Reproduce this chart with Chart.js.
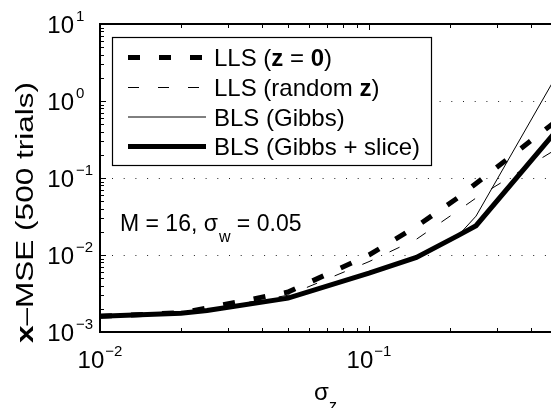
<!DOCTYPE html>
<html>
<head>
<meta charset="utf-8">
<script src="https://cdn.jsdelivr.net/npm/chart.js@4.4.1/dist/chart.umd.min.js"></script>
<style>
  html, body { margin: 0; padding: 0; background: #fff; overflow: hidden; }
  #wrap { width: 551px; height: 408px; position: relative; }
</style>
</head>
<body>
<div id="wrap"><canvas id="chart" width="551" height="408"></canvas></div>
<script>
// sigma_z values and x-MSE per method
const sigmaZ    = [0.01,   0.02,    0.025,   0.05,    0.1,     0.15,    0.215,  0.25,   0.5];
const llsZero   = [1.6e-3, 1.78e-3, 2.05e-3, 3.3e-3,  1.0e-2,  2.35e-2, 5.6e-2, 8.5e-2, 0.56];
const llsRandom = [1.6e-3, 1.78e-3, 1.95e-3, 3.0e-3,  8.2e-3,  1.6e-2,  3.8e-2, 5.5e-2, 0.24];
const blsGibbs  = [1.6e-3, 1.75e-3, 1.9e-3,  2.75e-3, 5.8e-3,  9.3e-3,  1.8e-2, 3.2e-2, 2.2];
const blsSlice  = [1.6e-3, 1.75e-3, 1.9e-3,  2.75e-3, 5.8e-3,  9.3e-3,  1.8e-2, 2.4e-2, 0.42];

const yTickExps = [-3, -2, -1, 0, 1];
const xTickExps = [-2, -1];
const gridExps = [-2, -1, 0];

const FONT = '"Liberation Sans", Arial, Helvetica, sans-serif';

function pts(ys) {
    return sigmaZ.map((x, i) => ({ x: x, y: ys[i] }));
}

const datasets = [
    { label: 'LLS (z = 0)', data: pts(llsZero), borderWidth: 5, borderDash: [12, 19], order: 4,
      parts: [['LLS (', false], ['z', true], [' = ', false], ['0', true], [')', false]] },
    { label: 'LLS (random z)', data: pts(llsRandom), borderWidth: 1, borderDash: [11, 19], order: 3,
      parts: [['LLS (random ', false], ['z', true], [')', false]] },
    { label: 'BLS (Gibbs)', data: pts(blsGibbs), borderWidth: 1, borderDash: [], order: 2,
      parts: [['BLS (Gibbs)', false]] },
    { label: 'BLS (Gibbs + slice)', data: pts(blsSlice), borderWidth: 5, borderDash: [], order: 1,
      parts: [['BLS (Gibbs + slice)', false]] }
];
datasets.forEach(d => {
    d.borderColor = '#000';
    d.backgroundColor = '#000';
    d.pointRadius = 0;
    d.tension = 0;
    d.fill = false;
    d.borderJoinStyle = 'miter';
});

function sup(exp) {
    return exp < 0 ? '\u2212' + Math.abs(exp) : String(exp);
}

// MATLAB-like box, inward ticks, dotted grid, power labels, legend and text
const matlabAxes = {
    id: 'matlabAxes',
    beforeDatasetsDraw(chart) {
        const ctx = chart.ctx, a = chart.chartArea, y = chart.scales.y;
        ctx.save();
        ctx.strokeStyle = '#222';
        ctx.lineWidth = 1;
        ctx.setLineDash([1, 10.7]);
        gridExps.forEach(e => {
            const py = Math.round(y.getPixelForValue(Math.pow(10, e))) + 0.5;
            ctx.beginPath();
            ctx.moveTo(a.left + 12, py);
            ctx.lineTo(a.right, py);
            ctx.stroke();
        });
        ctx.restore();
    },
    afterDatasetsDraw(chart) {
        const ctx = chart.ctx, a = chart.chartArea;
        const xs = chart.scales.x, ys = chart.scales.y;
        ctx.save();
        ctx.strokeStyle = '#000';
        ctx.fillStyle = '#000';

        // ticks
        ctx.lineWidth = 1;
        for (let e = -3; e <= 0; e++) {
            for (let m = 1; m <= 9; m++) {
                const v = m * Math.pow(10, e);
                const py = Math.round(ys.getPixelForValue(v)) + 0.5;
                const len = m === 1 ? 6 : 4;
                ctx.beginPath();
                ctx.moveTo(a.left, py); ctx.lineTo(a.left + len, py);
                ctx.stroke();
            }
        }
        for (let e = -2; e <= -1; e++) {
            for (let m = 1; m <= 9; m++) {
                const v = m * Math.pow(10, e);
                if (v > xs.max) continue;
                const px = Math.round(xs.getPixelForValue(v)) + 0.5;
                const len = m === 1 ? 6 : 4;
                ctx.beginPath();
                ctx.moveTo(px, a.bottom); ctx.lineTo(px, a.bottom - len);
                ctx.moveTo(px, a.top); ctx.lineTo(px, a.top + len);
                ctx.stroke();
            }
        }

        // axis box (right side lies outside the picture)
        ctx.lineWidth = 2;
        ctx.beginPath();
        ctx.moveTo(a.right + 2, a.top);
        ctx.lineTo(a.left, a.top);
        ctx.lineTo(a.left, a.bottom);
        ctx.lineTo(a.right + 2, a.bottom);
        ctx.stroke();

        // y tick labels
        yTickExps.forEach(e => {
            const py = ys.getPixelForValue(Math.pow(10, e));
            ctx.font = '24px ' + FONT;
            ctx.textAlign = 'right';
            ctx.textBaseline = 'alphabetic';
            ctx.fillText('10', 74, py + 9);
            ctx.font = '15px ' + FONT;
            ctx.textAlign = 'left';
            ctx.fillText(sup(e), 76, py - 3.5);
        });

        // x tick labels
        xTickExps.forEach(e => {
            const px = xs.getPixelForValue(Math.pow(10, e));
            ctx.font = '24px ' + FONT;
            const w10 = ctx.measureText('10').width;
            ctx.font = '15px ' + FONT;
            const wExp = ctx.measureText(sup(e)).width;
            const start = px - (w10 + 1 + wExp) / 2;
            ctx.textAlign = 'left';
            ctx.font = '24px ' + FONT;
            ctx.fillText('10', start, 368);
            ctx.font = '15px ' + FONT;
            ctx.fillText(sup(e), start + w10 + 1, 355.5);
        });

        // x axis title: sigma_z
        ctx.font = '24px ' + FONT;
        ctx.textAlign = 'left';
        ctx.fillText('\u03c3', 314, 400);
        ctx.font = '16px ' + FONT;
        ctx.fillText('z', 329, 411);

        // y axis title (rotated)
        ctx.save();
        ctx.translate(33, 343);
        ctx.rotate(-Math.PI / 2);
        ctx.font = 'bold 23px ' + FONT;
        const wx = ctx.measureText('x').width;
        ctx.font = '23px ' + FONT;
        const rest = '\u2013MSE (500 trials)';
        const wr = ctx.measureText(rest).width;
        ctx.scale(261 / (wx + wr), 1);
        ctx.textAlign = 'left';
        ctx.font = 'bold 23px ' + FONT;
        ctx.fillText('x', 0, 0);
        ctx.font = '23px ' + FONT;
        ctx.fillText(rest, wx, 0);
        ctx.restore();

        // annotation
        ctx.font = '23px ' + FONT;
        ctx.textAlign = 'left';
        let tx = 120;
        ctx.fillText('M = 16, \u03c3', tx, 231);
        tx += ctx.measureText('M = 16, \u03c3').width;
        ctx.font = '16px ' + FONT;
        ctx.fillText('w', tx + 1, 242);
        tx += ctx.measureText('w').width + 1;
        ctx.font = '23px ' + FONT;
        ctx.fillText(' = 0.05', tx, 231);

        // legend
        const box = { left: 112.5, top: 37.5, right: 431.5, bottom: 165.5 };
        ctx.fillStyle = '#fff';
        ctx.fillRect(box.left, box.top, box.right - box.left, box.bottom - box.top);
        ctx.lineWidth = 1.2;
        ctx.strokeStyle = '#000';
        ctx.strokeRect(box.left, box.top, box.right - box.left, box.bottom - box.top);
        const rowY = [57.5, 87.5, 117, 146.5];
        chart.data.datasets.forEach((d, i) => {
            const ly = rowY[i];
            ctx.save();
            ctx.lineWidth = d.borderWidth;
            ctx.setLineDash(d.borderDash);
            ctx.lineCap = 'butt';
            ctx.beginPath();
            ctx.moveTo(128, ly);
            ctx.lineTo(206, ly);
            ctx.stroke();
            ctx.restore();
            ctx.fillStyle = '#000';
            let x = 214;
            d.parts.forEach(p => {
                ctx.font = (p[1] ? 'bold ' : '') + '24px ' + FONT;
                ctx.fillText(p[0], x, ly + 8.5);
                x += ctx.measureText(p[0]).width;
            });
        });

        ctx.restore();
    }
};

const chart = new Chart(document.getElementById('chart'), {
    type: 'line',
    data: { datasets: datasets },
    options: {
        responsive: false,
        devicePixelRatio: 1,
        animation: false,
        layout: { padding: { left: 100, top: 24, right: 0, bottom: 76 } },
        plugins: { legend: { display: false }, tooltip: { enabled: false } },
        scales: {
            x: { type: 'logarithmic', min: 0.01, max: Math.pow(10, -2 + 451 / 269), display: false },
            y: { type: 'logarithmic', min: 1e-3, max: 10, display: false }
        }
    },
    plugins: [matlabAxes]
});
</script>
</body>
</html>
